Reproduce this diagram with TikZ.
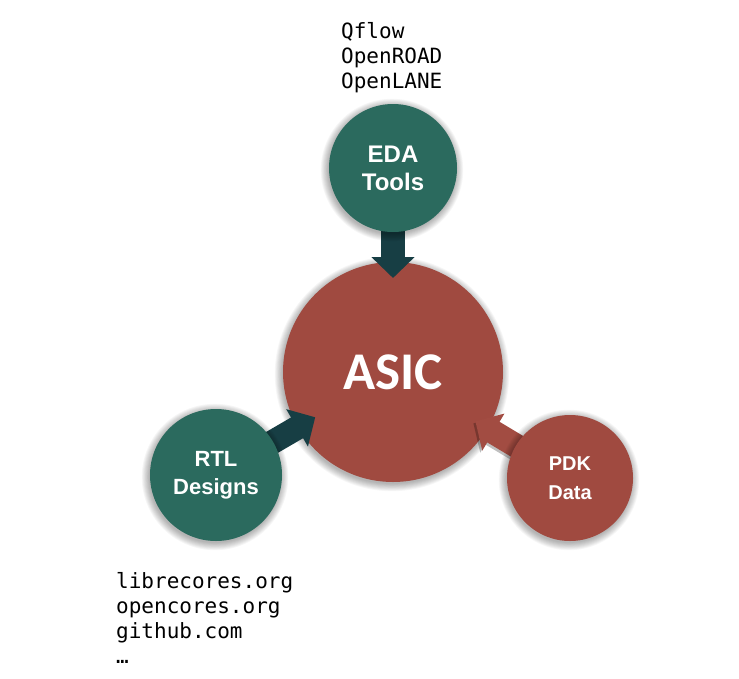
\documentclass[tikz,border=0pt]{standalone}
\usepackage{fontspec}
\setmainfont{Liberation Sans}
\newfontfamily\monofnt{DejaVu Sans Mono}
\newfontfamily\asicfnt{Carlito}
\usetikzlibrary{arrows.meta}
\definecolor{tealc}{HTML}{2B6A5E}
\definecolor{redc}{HTML}{A04A40}
\definecolor{darkarrow}{HTML}{173E44}
\definecolor{redarrow}{HTML}{A24C42}
\tikzset{
  bubble/.style={circle, inner sep=0pt, align=center, text=white, font=\bfseries},
  fatarrow/.style={line width=24pt, -{Triangle[width=42pt,length=21pt]}},
  monotext/.style={anchor=base west, inner sep=0pt, font=\monofnt\fontsize{21}{25}\selectfont, text=black},
  softshadow/.style={fill=black, fill opacity=0.035},
}
\newcommand\myshadow[2]{%
  \foreach \k in {0,1,...,8} {\fill[softshadow] ($(#1)+(-1,2)$) circle[radius=#2+\k*0.9];}}
\usetikzlibrary{calc}
\begin{document}
\begin{tikzpicture}[x=1pt,y=-1pt]
\useasboundingbox[fill=white] (0,0) rectangle (739,678);
\coordinate (ceda) at (393,168);
\coordinate (crtl) at (216,475);
\coordinate (cpdk) at (570,478);
\coordinate (casic) at (393,372);
% ASIC
\myshadow{casic}{110}
\node[bubble, fill=redc, minimum size=220pt, font=\asicfnt\bfseries\fontsize{53}{60}\selectfont] (asic) at (casic) {ASIC};
% arrows
\draw[fatarrow, darkarrow, shorten >=94pt] (ceda) -- (casic);
\draw[fatarrow, darkarrow, shorten >=90pt] (crtl) -- (casic);
\begin{scope}[transform canvas={shift={(-2pt,-2pt)}}]
\draw[fatarrow, black, opacity=0.25, shorten >=96pt] (cpdk) -- (casic);
\end{scope}
\draw[fatarrow, redarrow, shorten >=96pt] (cpdk) -- (casic);
% small circles
\myshadow{ceda}{64}
\myshadow{crtl}{66}
\myshadow{cpdk}{63}
\node[bubble, fill=tealc, minimum size=128pt, font=\bfseries\fontsize{24}{28}\selectfont] (eda) at (ceda) {EDA\\Tools};
\node[bubble, fill=tealc, minimum size=132pt, font=\bfseries\fontsize{22}{28}\selectfont] (rtl) at (crtl) {RTL\\Designs};
\node[bubble, fill=redc, minimum size=126pt, font=\bfseries\fontsize{20}{29}\selectfont] (pdk) at (cpdk) {PDK\\Data};
% texts
\node[monotext] (t1) at (341,38) {Qflow};
\node[monotext] (t2) at (341,63) {OpenROAD};
\node[monotext] (t3) at (341,88) {OpenLANE};
\node[monotext] (b1) at (116,588) {librecores.org};
\node[monotext] (b2) at (116,613) {opencores.org};
\node[monotext] (b3) at (116,638) {github.com};
\node[monotext] (b4) at (116,663) {…};
\end{tikzpicture}
\end{document}
